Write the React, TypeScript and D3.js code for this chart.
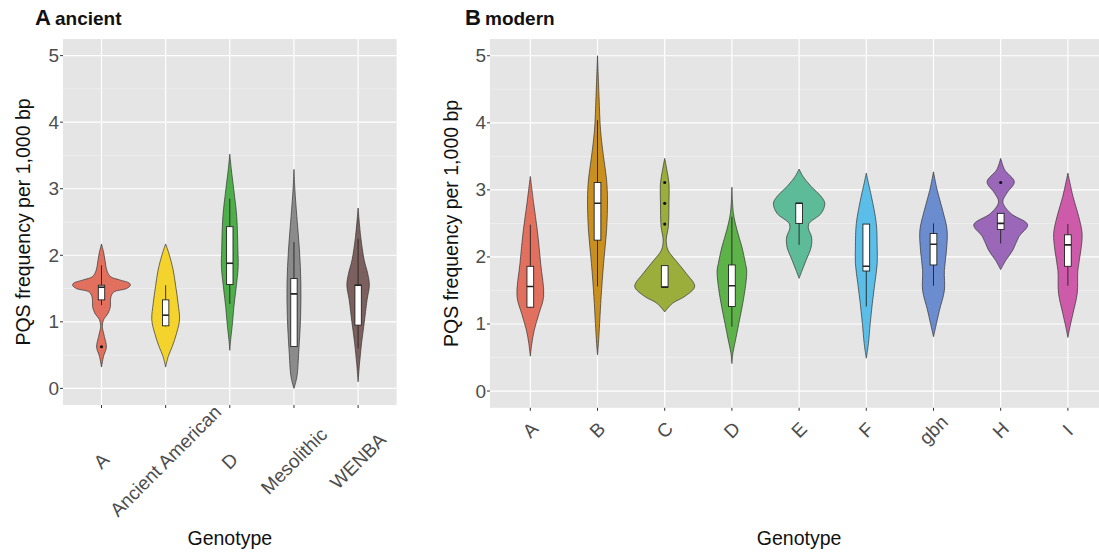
import React from "react";
import * as d3 from "d3";

// ---------- data ----------
const yTicks = [0, 1, 2, 3, 4, 5];
const yMinor = [0.5, 1.5, 2.5, 3.5, 4.5];

const ancientCats = ["A", "Ancient American", "D", "Mesolithic", "WENBA"];
const ancientColors = ["#E2705F", "#F4D42C", "#4EAF4A", "#8B8B8B", "#7C605D"];
// [value, relative density]
const ancientDensity: [number, number][][] = [
  [[2.17, 0], [2.03, 0.08], [1.9, 0.13], [1.78, 0.18], [1.68, 0.31], [1.63, 0.63], [1.58, 0.97], [1.55, 1.0], [1.5, 0.87], [1.45, 0.43], [1.38, 0.33], [1.3, 0.31], [1.23, 0.31], [1.13, 0.23], [1.03, 0.07], [0.93, 0.03], [0.78, 0.1], [0.62, 0.17], [0.48, 0.07], [0.32, 0]],
  [[2.17, 0], [2.03, 0.11], [1.78, 0.26], [1.53, 0.35], [1.28, 0.43], [1.03, 0.48], [0.83, 0.38], [0.63, 0.23], [0.48, 0.09], [0.32, 0]],
  [[3.52, 0], [3.3, 0.05], [2.98, 0.14], [2.58, 0.24], [2.08, 0.28], [1.83, 0.29], [1.48, 0.21], [1.22, 0.14], [0.97, 0.09], [0.73, 0.03], [0.57, 0]],
  [[3.29, 0], [3.0, 0.03], [2.58, 0.1], [2.08, 0.19], [1.58, 0.24], [1.08, 0.23], [0.58, 0.17], [0.17, 0.1], [0.0, 0]],
  [[2.71, 0], [2.28, 0.09], [1.93, 0.21], [1.73, 0.33], [1.55, 0.39], [1.33, 0.31], [0.98, 0.21], [0.68, 0.12], [0.38, 0.05], [0.1, 0]],
];
const ancientLo = [1.25, 0.93, 1.27, 0.63, 0.6];
const ancientQ1 = [1.33, 0.94, 1.56, 0.63, 0.95];
const ancientMed = [1.52, 1.1, 1.88, 1.42, 1.55];
const ancientQ3 = [1.55, 1.33, 2.43, 1.65, 1.55];
const ancientHi = [1.85, 1.55, 2.85, 2.2, 2.25];
const ancientOutliers: number[][] = [[0.625], [], [], [], []];

const modernCats = ["A", "B", "C", "D", "E", "F", "gbn", "H", "I"];
const modernColors = ["#E2705F", "#C98F1F", "#9BAE3B", "#5DB249", "#5EBB9A", "#5BBEE8", "#6C8CD0", "#9B67B8", "#CD5BA9"];
const modernDensity: [number, number][][] = [
  [[3.2, 0], [2.8, 0.11], [2.4, 0.23], [1.91, 0.34], [1.41, 0.44], [1.16, 0.29], [0.91, 0.13], [0.71, 0.05], [0.52, 0]],
  [[5.0, 0], [4.39, 0.05], [3.89, 0.1], [3.49, 0.2], [3.15, 0.3], [2.85, 0.33], [2.4, 0.3], [1.9, 0.2], [1.41, 0.12], [1.01, 0.07], [0.71, 0.03], [0.54, 0]],
  [[3.47, 0], [3.3, 0.07], [3.1, 0.14], [2.8, 0.14], [2.45, 0.12], [2.25, 0.05], [2.1, 0.11], [1.95, 0.36], [1.75, 0.72], [1.56, 0.99], [1.41, 0.66], [1.31, 0.26], [1.18, 0]],
  [[3.04, 0], [2.65, 0.05], [2.4, 0.17], [2.15, 0.33], [1.9, 0.45], [1.8, 0.49], [1.6, 0.46], [1.31, 0.36], [1.01, 0.23], [0.76, 0.12], [0.56, 0.03], [0.41, 0]],
  [[3.31, 0], [3.2, 0.13], [3.05, 0.4], [2.9, 0.73], [2.8, 0.85], [2.65, 0.73], [2.5, 0.33], [2.42, 0.31], [2.3, 0.41], [2.15, 0.4], [1.95, 0.23], [1.8, 0.1], [1.68, 0]],
  [[3.25, 0], [3.1, 0.07], [2.9, 0.17], [2.5, 0.33], [2.15, 0.36], [1.9, 0.36], [1.6, 0.28], [1.31, 0.2], [1.01, 0.13], [0.71, 0.07], [0.49, 0]],
  [[3.27, 0], [3.0, 0.12], [2.7, 0.3], [2.4, 0.45], [2.1, 0.43], [1.8, 0.36], [1.5, 0.36], [1.21, 0.2], [1.01, 0.1], [0.81, 0]],
  [[3.47, 0], [3.3, 0.13], [3.12, 0.45], [2.95, 0.2], [2.82, 0.07], [2.65, 0.33], [2.48, 0.89], [2.3, 0.6], [2.1, 0.4], [1.95, 0.17], [1.81, 0]],
  [[3.25, 0], [2.9, 0.17], [2.6, 0.36], [2.35, 0.47], [2.1, 0.43], [1.8, 0.33], [1.46, 0.31], [1.16, 0.17], [0.96, 0.07], [0.8, 0]],
];
const modernLo = [1.24, 1.56, 1.55, 0.96, 2.18, 1.26, 1.57, 2.2, 1.57];
const modernQ1 = [1.25, 2.25, 1.55, 1.26, 2.5, 1.79, 1.88, 2.41, 1.86];
const modernMed = [1.56, 2.8, 1.55, 1.57, 2.8, 1.86, 2.19, 2.5, 2.18];
const modernQ3 = [1.86, 3.11, 1.87, 1.88, 2.8, 2.49, 2.35, 2.65, 2.33];
const modernHi = [2.48, 4.04, 1.87, 2.6, 2.8, 2.49, 2.5, 2.65, 2.49];
const modernOutliers: number[][] = [[], [], [2.49, 2.8, 3.11], [], [], [], [], [3.11], []];

const FONT = "'Liberation Sans', Arial, Helvetica, sans-serif";

type PanelProps = {
  letter: string;
  word: string;
  titleX: number;
  cats: string[];
  colors: string[];
  density: [number, number][][];
  lo: number[];
  q1: number[];
  med: number[];
  q3: number[];
  hi: number[];
  outliers: number[][];
  left: number;
  right: number;
  top: number;
  bottom: number;
  yLabelX: number;
  xLabelY: number;
};

function Panel(p: PanelProps) {
  const n = p.cats.length;
  const x = d3.scaleLinear().domain([0.4, n + 0.6]).range([p.left, p.right]);
  const y = d3.scaleLinear().domain([-0.25, 5.25]).range([p.bottom, p.top]);
  const step = x(2) - x(1);
  const w = d3.scaleLinear().domain([0, 1]).range([0, 0.45 * step]);
  const boxHalf = 0.05 * step;
  const clipId = "clip-" + p.letter;

  return (
    <g>
      <text x={p.titleX} y={25} fontFamily={FONT} fontWeight="bold" fontSize={22} fill="#111">{p.letter}</text>
      <text x={p.titleX + 20} y={25} fontFamily={FONT} fontWeight="bold" fontSize={19} fill="#111">{p.word}</text>
      <defs>
        <clipPath id={clipId}>
          <rect x={p.left} y={p.top} width={p.right - p.left} height={p.bottom - p.top} />
        </clipPath>
      </defs>
      <rect x={p.left} y={p.top} width={p.right - p.left} height={p.bottom - p.top} fill="#E5E5E5" />
      {yMinor.map((t) => (
        <line key={"mi" + t} x1={p.left} x2={p.right} y1={y(t)} y2={y(t)} stroke="#F4F4F4" strokeWidth={0.6} />
      ))}
      {yTicks.map((t) => (
        <line key={"ma" + t} x1={p.left} x2={p.right} y1={y(t)} y2={y(t)} stroke="#FFFFFF" strokeWidth={1.2} />
      ))}
      {p.cats.map((c, i) => (
        <line key={"vx" + c} x1={x(i + 1)} x2={x(i + 1)} y1={p.top} y2={p.bottom} stroke="#FFFFFF" strokeWidth={1.2} />
      ))}
      <g clipPath={`url(#${clipId})`}>
        {p.cats.map((c, i) => {
          const cx = x(i + 1);
          const area = d3
            .area<[number, number]>()
            .y((d) => y(d[0]))
            .x0((d) => cx - w(d[1]))
            .x1((d) => cx + w(d[1]))
            .curve(d3.curveCatmullRom.alpha(0.5));
          return (
            <g key={"v" + c}>
              <path d={area(p.density[i]) || ""} fill={p.colors[i]} stroke="#333333" strokeWidth={0.7} />
              <line x1={cx} x2={cx} y1={y(p.hi[i])} y2={y(p.lo[i])} stroke="#222" strokeWidth={0.9} />
              <rect
                x={cx - boxHalf}
                y={y(p.q3[i])}
                width={2 * boxHalf}
                height={Math.max(0.5, y(p.q1[i]) - y(p.q3[i]))}
                fill="#FFFFFF"
                stroke="#222"
                strokeWidth={0.9}
              />
              <line x1={cx - boxHalf} x2={cx + boxHalf} y1={y(p.med[i])} y2={y(p.med[i])} stroke="#222" strokeWidth={1.6} />
              {p.outliers[i].map((o, k) => (
                <circle key={k} cx={cx} cy={y(o)} r={1.6} fill="#111" />
              ))}
            </g>
          );
        })}
      </g>
      {yTicks.map((t) => (
        <g key={"yt" + t}>
          <line x1={p.left - 3} x2={p.left} y1={y(t)} y2={y(t)} stroke="#333" strokeWidth={1} />
          <text x={p.left - 4} y={y(t)} textAnchor="end" dominantBaseline="central" fontFamily={FONT} fontSize={19} fill="#4D4D4D">{t}</text>
        </g>
      ))}
      {p.cats.map((c, i) => (
        <g key={"xt" + c}>
          <line x1={x(i + 1)} x2={x(i + 1)} y1={p.bottom} y2={p.bottom + 3} stroke="#333" strokeWidth={1} />
          <text
            transform={`translate(${x(i + 1)},${p.xLabelY}) rotate(-45)`}
            textAnchor="middle"
            dominantBaseline="central"
            fontFamily={FONT}
            fontSize={19}
            fill="#4D4D4D"
          >
            {c}
          </text>
        </g>
      ))}
      <text
        transform={`translate(${p.yLabelX},${(p.top + p.bottom) / 2}) rotate(-90)`}
        textAnchor="middle"
        dominantBaseline="central"
        fontFamily={FONT}
        fontSize={19.5}
        fill="#111"
      >
        PQS frequency per 1,000 bp
      </text>
      <text x={(p.left + p.right) / 2} y={538} textAnchor="middle" dominantBaseline="central" fontFamily={FONT} fontSize={19.5} fill="#111">
        Genotype
      </text>
    </g>
  );
}

export default function App() {
  return (
    <svg width={1099} height={552} style={{ position: "absolute", left: 0, top: 0, background: "#FFFFFF" }}>
      <rect x={0} y={0} width={1099} height={552} fill="#FFFFFF" />
      <Panel
        letter="A"
        word="ancient"
        titleX={35}
        cats={ancientCats}
        colors={ancientColors}
        density={ancientDensity}
        lo={ancientLo}
        q1={ancientQ1}
        med={ancientMed}
        q3={ancientQ3}
        hi={ancientHi}
        outliers={ancientOutliers}
        left={63}
        right={396.6}
        top={39}
        bottom={405}
        yLabelX={23}
        xLabelY={461}
      />
      <Panel
        letter="B"
        word="modern"
        titleX={465}
        cats={modernCats}
        colors={modernColors}
        density={modernDensity}
        lo={modernLo}
        q1={modernQ1}
        med={modernMed}
        q3={modernQ3}
        hi={modernHi}
        outliers={modernOutliers}
        left={490}
        right={1108.2}
        top={39}
        bottom={407.8}
        yLabelX={451}
        xLabelY={430}
      />
    </svg>
  );
}
